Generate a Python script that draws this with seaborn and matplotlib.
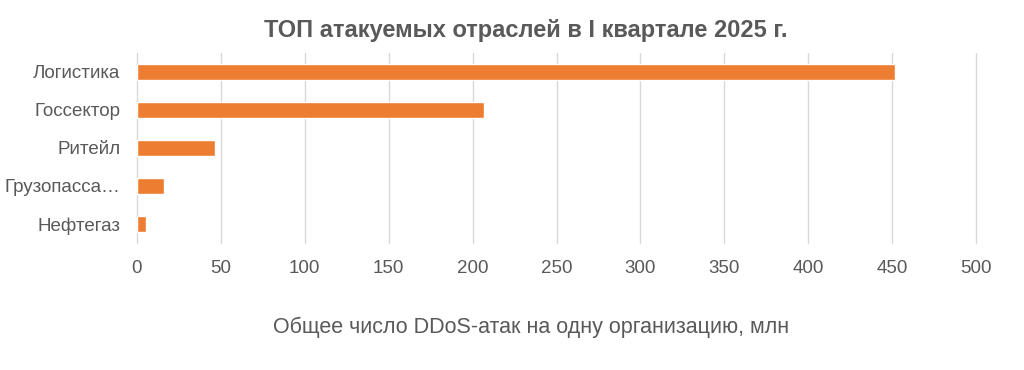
import seaborn as sns
import matplotlib.pyplot as plt
import pandas as pd

# values, mln attacks per organisation
industries = ['Логистика', 'Госсектор', 'Ритейл', 'Грузопасса…', 'Нефтегаз']
attacks = [452, 207, 46.5, 16, 5.4]
x_ticks = [0, 50, 100, 150, 200, 250, 300, 350, 400, 450, 500]

df = pd.DataFrame({'industry': industries, 'attacks': attacks})

sns.set_style('white')
plt.rcParams['font.family'] = ['Liberation Sans', 'DejaVu Sans']
grey = '#595959'

fig = plt.figure(figsize=(10.24, 3.70), dpi=100)
ax = fig.add_axes([137 / 1024, 1 - 243 / 370, (976 - 137) / 1024, 190 / 370])

sns.barplot(data=df, x='attacks', y='industry', color='#ED7D31', width=0.4,
            saturation=1, ax=ax, zorder=3)

ax.set_xlim(0, 500)
ax.set_xticks(x_ticks)
ax.grid(axis='x', color='#D9D9D9', linewidth=1, zorder=0)
ax.grid(axis='y', visible=False)
for gl in ax.get_xgridlines():
    gl.set_clip_on(False)
for s in ax.spines.values():
    s.set_visible(False)
ax.tick_params(axis='both', length=0, labelsize=13.5, labelcolor=grey)
ax.tick_params(axis='x', pad=12)
ax.tick_params(axis='y', pad=12)
ax.set_ylabel('')
ax.set_xlabel('Общее число DDoS-атак на одну организацию, млн', fontsize=15.5,
              color=grey)
# label sits a bit left of the plot centre in the original
ax.xaxis.set_label_coords(0.47, -0.39)

fig.text(526 / 1024, 1 - 30 / 370, 'ТОП атакуемых отраслей в I квартале 2025 г.',
         ha='center', va='center', fontsize=17, fontweight='bold', color=grey)

fig.savefig('out.png', dpi=100)
